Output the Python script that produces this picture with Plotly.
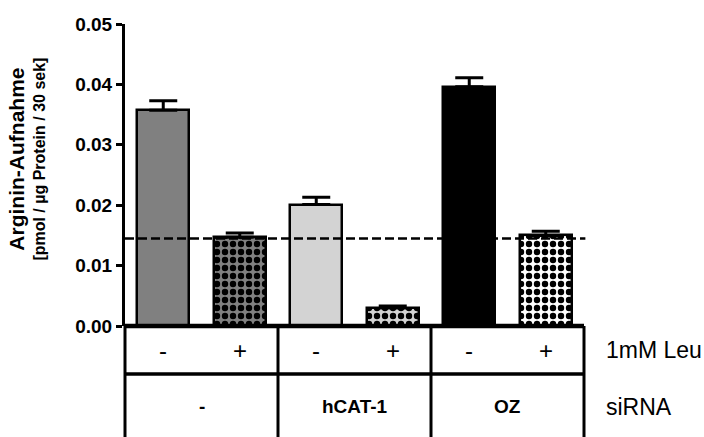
import plotly.graph_objects as go

# ---- data ----
leu_labels = ["-", "+", "-", "+", "-", "+"]
sirna_labels = ["-", "hCAT-1", "OZ"]
uptake = [0.0357, 0.0147, 0.0201, 0.0030, 0.0396, 0.0150]
uptake_err = [0.0016, 0.0007, 0.0012, 0.0003, 0.0015, 0.0007]
baseline = 0.0145
ytick_vals = [0.00, 0.01, 0.02, 0.03, 0.04, 0.05]
ytick_text = ["0.00", "0.01", "0.02", "0.03", "0.04", "0.05"]

bar_colors = ["#808080", "#808080", "#d3d3d3", "#d3d3d3", "#000000", "#ffffff"]
bar_patterns = ["", ".", "", ".", "", "."]

FONT = "Liberation Sans"
n = len(uptake)

fig = go.Figure()
for i in range(n):
    marker = dict(color=bar_colors[i], line=dict(color="black", width=2.5))
    if bar_patterns[i]:
        marker["pattern"] = dict(shape=bar_patterns[i], fgcolor="#000000", bgcolor=bar_colors[i],
                                 fgopacity=1, size=8, solidity=0.5, fillmode="replace")
    fig.add_trace(go.Bar(
        x=[i], y=[uptake[i]], width=0.68, marker=marker,
        error_y=dict(type="data", array=[uptake_err[i]], arrayminus=[0], symmetric=False,
                     color="black", thickness=3, width=14),
        showlegend=False,
    ))

shapes = []
# dashed reference line
shapes.append(dict(type="line", xref="paper", yref="y", x0=0, x1=1.003,
                   y0=baseline, y1=baseline, line=dict(color="black", width=2.5, dash="9px,4px")))
# table lines
row_div = -0.159
tbl_bot = -0.37
shapes.append(dict(type="line", xref="paper", yref="paper", x0=0, x1=1, y0=0, y1=0,
                   line=dict(color="black", width=4.5)))
shapes.append(dict(type="line", xref="paper", yref="paper", x0=0, x1=1, y0=row_div, y1=row_div,
                   line=dict(color="black", width=3.5)))
for i in [0, 2, 4, 6]:
    xp = i / n
    shapes.append(dict(type="line", xref="paper", yref="paper", x0=xp, x1=xp, y0=0, y1=tbl_bot,
                       line=dict(color="black", width=3)))

annotations = []
for i, lab in enumerate(leu_labels):
    annotations.append(dict(x=i, y=-0.08, xref="x", yref="paper", text=lab, showarrow=False,
                            font=dict(family=FONT, size=24, color="black"),
                            xanchor="center", yanchor="middle"))
for g, lab in enumerate(sirna_labels):
    annotations.append(dict(x=2 * g + 0.5, y=-0.268, xref="x", yref="paper", text=lab, showarrow=False,
                            font=dict(family=FONT, size=19, color="black", weight="bold"),
                            xanchor="center", yanchor="middle"))
annotations.append(dict(x=1.043, y=-0.08, xref="paper", yref="paper", text="1mM Leu", showarrow=False,
                        font=dict(family=FONT, size=23, color="black"), xanchor="left", yanchor="middle"))
annotations.append(dict(x=1.043, y=-0.268, xref="paper", yref="paper", text="siRNA", showarrow=False,
                        font=dict(family=FONT, size=23, color="black"), xanchor="left", yanchor="middle"))
# y-axis title (two lines)
annotations.append(dict(x=-0.236, y=0.553, xref="paper", yref="paper", text="Arginin-Aufnahme",
                        showarrow=False, textangle=-90,
                        font=dict(family=FONT, size=21, color="black", weight="bold"),
                        xanchor="center", yanchor="middle"))
annotations.append(dict(x=-0.186, y=0.553, xref="paper", yref="paper",
                        text="[pmol / µg Protein / 30 sek]",
                        showarrow=False, textangle=-90,
                        font=dict(family=FONT, size=16, color="black", weight="bold"),
                        xanchor="center", yanchor="middle"))

fig.update_layout(
    width=704, height=437,
    margin=dict(l=125, r=120, t=24, b=111),
    paper_bgcolor="white", plot_bgcolor="white",
    xaxis=dict(range=[-0.5, n - 0.5], showticklabels=False, ticks="", showline=False,
               showgrid=False, zeroline=False),
    yaxis=dict(range=[0, 0.05], tickvals=ytick_vals, ticktext=ytick_text, ticks="outside",
               ticklen=6, tickwidth=3, tickcolor="black", showline=True, linewidth=3,
               linecolor="black", showgrid=False, zeroline=False,
               tickfont=dict(family=FONT, size=19, color="black", weight="bold")),
    shapes=shapes,
    annotations=annotations,
    bargap=0,
    barmode="overlay",
)

fig.write_html("out.html")
